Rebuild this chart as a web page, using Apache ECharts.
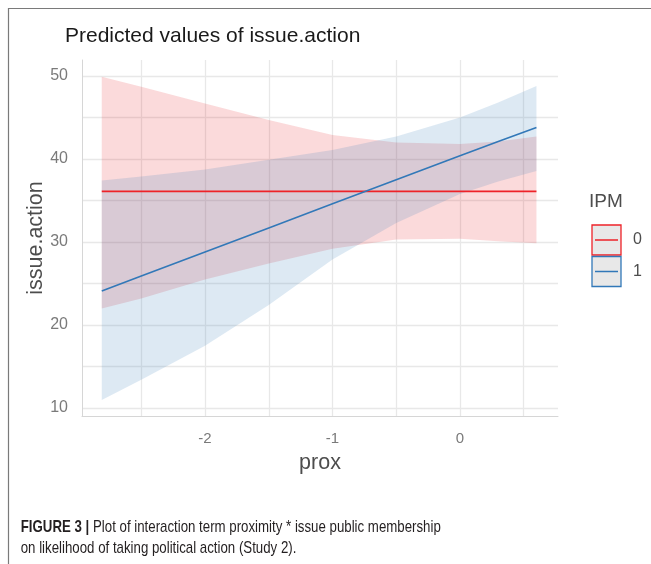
<!DOCTYPE html>
<html>
<head>
<meta charset="utf-8">
<script src="https://cdn.jsdelivr.net/npm/echarts@6/dist/echarts.min.js"></script>
<style>
  html, body { margin: 0; padding: 0; background: #ffffff; }
  #chart { width: 651px; height: 564px; }
</style>
</head>
<body>
<div id="chart"></div>
<script>
// Predicted issue.action by proximity, split by issue public membership (IPM)
const prox = [-2.81, -2.5, -2, -1.5, -1, -0.5, 0, 0.3, 0.6];

const ipmLevels = ['0', '1'];

const ipm0Fit   = [36.1, 36.1, 36.1, 36.1, 36.1, 36.1, 36.1, 36.1, 36.1];
const ipm0Lower = [22.0, 23.2, 25.5, 27.4, 29.2, 30.3, 30.4, 30.1, 29.85];
const ipm0Upper = [49.9, 48.7, 46.7, 44.7, 42.9, 42.0, 41.8, 42.1, 42.7];

const ipm1Fit   = [24.1, 25.9, 28.8, 31.7, 34.6, 37.5, 40.4, 42.1, 43.8];
const ipm1Lower = [10.96, 13.4, 17.5, 22.4, 27.9, 32.3, 35.8, 37.3, 38.55];
const ipm1Upper = [37.4, 37.9, 38.75, 39.9, 41.1, 42.7, 45.0, 46.8, 48.8];

const xTickValues  = [-2.5, -2, -1.5, -1, -0.5, 0, 0.5];
const xLabelValues = [-2, -1, 0];
const yTickValues  = [10, 15, 20, 25, 30, 35, 40, 45, 50];
const yLabelValues = [10, 20, 30, 40, 50];

const lineColors = ['#EE2228', '#3278B8'];
const bandColors = ['rgba(228,26,28,0.16)', 'rgba(55,126,184,0.17)'];
const FONT = 'Liberation Sans, Arial, sans-serif';

const chart = echarts.init(document.getElementById('chart'), null, { renderer: 'canvas' });

// Confidence ribbon drawn as one polygon through the cartesian coordinate system
function band(name, lower, upper, color) {
  return {
    type: 'custom',
    name: name,
    coordinateSystem: 'cartesian2d',
    silent: true,
    data: prox.map((x, i) => [x, lower[i], upper[i]]),
    encode: { x: 0, y: [1, 2] },
    renderItem: function (params, api) {
      if (params.dataIndex !== 0) return null;
      const pts = [];
      for (let i = 0; i < prox.length; i++) pts.push(api.coord([prox[i], upper[i]]));
      for (let i = prox.length - 1; i >= 0; i--) pts.push(api.coord([prox[i], lower[i]]));
      return { type: 'polygon', shape: { points: pts }, style: { fill: color } };
    },
    z: 2
  };
}

function fitLine(name, fit, color) {
  return {
    type: 'line',
    name: name,
    data: prox.map((x, i) => [x, fit[i]]),
    symbol: 'none',
    silent: true,
    lineStyle: { color: color, width: 1.6 },
    z: 3
  };
}

// Legend drawn as keyed boxes (grey key with coloured outline and stroke)
const legendX = 592, legendY0 = 225, keyW = 29, keyH = 30;
const legendGraphics = [
  { type: 'text', left: 589, top: 192, style: { text: 'IPM', fill: '#4d4d4d', font: '19px ' + FONT } }
];
ipmLevels.forEach((lvl, i) => {
  const y = legendY0 + i * (keyH + 1.5);
  legendGraphics.push({
    type: 'rect', shape: { x: legendX, y: y, width: keyW, height: keyH },
    style: { fill: '#e8e8e8', stroke: lineColors[i], lineWidth: 1.3 }
  });
  legendGraphics.push({
    type: 'line', shape: { x1: legendX + 3, y1: y + keyH / 2, x2: legendX + keyW - 3, y2: y + keyH / 2 },
    style: { stroke: lineColors[i], lineWidth: 1.5 }
  });
  legendGraphics.push({
    type: 'text', x: 633, y: y + keyH / 2,
    style: { text: lvl, fill: '#4d4d4d', font: '16px ' + FONT, textVerticalAlign: 'middle' }
  });
});

// Frame around the figure and the caption underneath
const frameGraphics = [
  { type: 'polyline', shape: { points: [[8.5, 564], [8.5, 8.5], [651, 8.5]] },
    style: { stroke: '#7a7a7a', lineWidth: 1.2, fill: null } },
  { type: 'text', x: 17, y: 527,
    style: {
      text: '{b|FIGURE 3 |} Plot of interaction term proximity * issue public membership',
      font: '17px ' + FONT, fill: '#231f20', textVerticalAlign: 'middle',
      rich: { b: { fontWeight: 'bold', fontSize: 17, fontFamily: FONT, fill: '#231f20' } }
    }, scaleX: 0.78, originX: 17 },
  { type: 'text', x: 17, y: 548,
    style: {
      text: 'on likelihood of taking political action (Study 2).',
      font: '17px ' + FONT, fill: '#231f20', textVerticalAlign: 'middle'
    }, scaleX: 0.78, originX: 17 }
];

const option = {
  animation: false,
  backgroundColor: '#ffffff',
  title: {
    text: 'Predicted values of issue.action',
    left: 60, top: 21,
    textStyle: { fontFamily: FONT, fontSize: 21, fontWeight: 'normal', color: '#1a1a1a' }
  },
  grid: { left: 82, right: 93, top: 60, bottom: 148, containLabel: false },
  xAxis: {
    type: 'value',
    min: -2.965, max: 0.769,
    name: 'prox', nameLocation: 'middle', nameGap: 36,
    nameTextStyle: { fontFamily: FONT, fontSize: 21.5, color: '#4d4d4d' },
    axisLine: { show: true, onZero: false, lineStyle: { color: '#d6d6d6', width: 1 } },
    axisTick: { show: false, customValues: xTickValues },
    axisLabel: { customValues: xLabelValues, fontFamily: FONT, fontSize: 15, color: '#7a7a7a', margin: 15 },
    splitLine: { show: true, lineStyle: { color: '#e8e8e8', width: 1.3 } }
  },
  yAxis: {
    type: 'value',
    min: 9.04, max: 51.93,
    name: 'issue.action', nameLocation: 'middle', nameGap: 35, nameRotate: 90,
    nameMoveOverlap: false,
    nameTextStyle: { fontFamily: FONT, fontSize: 21.5, color: '#4d4d4d' },
    axisLine: { show: true, onZero: false, lineStyle: { color: '#d6d6d6', width: 1 } },
    axisTick: { show: false, customValues: yTickValues },
    axisLabel: { customValues: yLabelValues, fontFamily: FONT, fontSize: 16, color: '#7a7a7a', margin: 14 },
    splitLine: { show: true, lineStyle: { color: '#e8e8e8', width: 1.3 } }
  },
  graphic: legendGraphics.concat(frameGraphics),
  series: [
    band('IPM 0 interval', ipm0Lower, ipm0Upper, bandColors[0]),
    band('IPM 1 interval', ipm1Lower, ipm1Upper, bandColors[1]),
    fitLine(ipmLevels[0], ipm0Fit, lineColors[0]),
    fitLine(ipmLevels[1], ipm1Fit, lineColors[1])
  ]
};

chart.setOption(option);
</script>
</body>
</html>
